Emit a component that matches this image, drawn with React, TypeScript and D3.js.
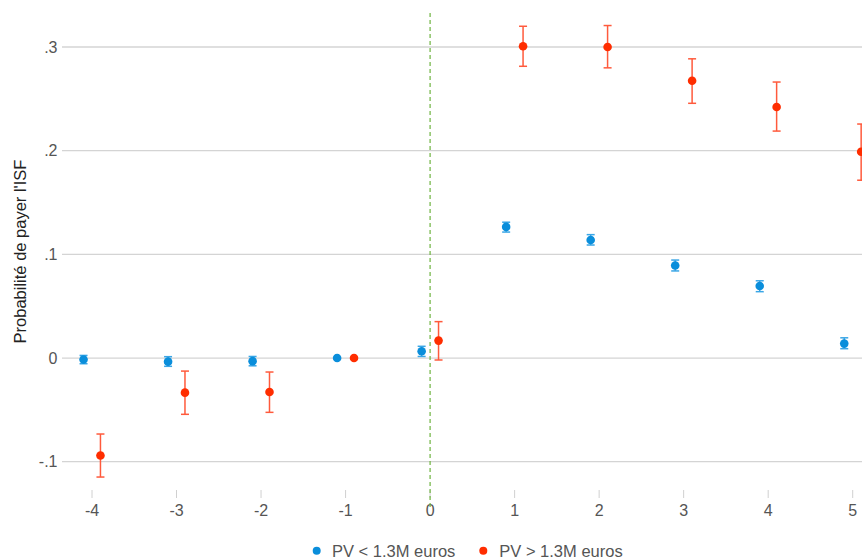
import React from "react";
import * as d3 from "d3";

const periods = [-4, -3, -2, -1, 0, 1, 2, 3, 4, 5];
const lowEst = [-0.0015, -0.0035, -0.003, 0, 0.0065, 0.1265, 0.1139, 0.0892, 0.0695, 0.0139];
const lowLo = [-0.0055, -0.008, -0.0075, 0, 0.0015, 0.1215, 0.109, 0.084, 0.064, 0.009];
const lowHi = [0.0025, 0.0013, 0.0015, 0, 0.0113, 0.131, 0.119, 0.0945, 0.0745, 0.0195];
const highEst = [-0.094, -0.0334, -0.0328, 0, 0.0168, 0.3007, 0.3, 0.2674, 0.2421, 0.199];
const highLo = [-0.1148, -0.0543, -0.0524, 0, -0.0019, 0.2814, 0.2799, 0.2457, 0.2189, 0.1715];
const highHi = [-0.0733, -0.0126, -0.0135, 0, 0.0351, 0.32, 0.3207, 0.2886, 0.2662, 0.2257];
const yTicks = [-0.1, 0, 0.1, 0.2, 0.3];
const yTickLabels = ["-.1", "0", ".1", ".2", ".3"];
const seriesNames = ["PV < 1.3M euros", "PV > 1.3M euros"];
const yTitle = "Probabilité de payer l'ISF";

const W = 862;
const H = 559;
const BLUE = "#0a8edb";
const BLUE_ERR = "#3aa6e6";
const RED = "#ff2d00";
const RED_ERR = "#ff5a3c";
const FONT = "Liberation Sans, Arial, sans-serif";

export default function App() {
  const x = d3.scaleLinear().domain([-4, 5]).range([92, 852.7]);
  const y = d3.scaleLinear().domain([-0.1, 0.3]).range([461.7, 47]);

  const series = [
    { est: lowEst, lo: lowLo, hi: lowHi, off: -0.1, c: BLUE, ec: BLUE_ERR },
    { est: highEst, lo: highLo, hi: highHi, off: 0.1, c: RED, ec: RED_ERR },
  ];

  return (
    <svg width={W} height={H} style={{ position: "absolute", left: 0, top: 0, background: "#fff" }}>
      <rect x={0} y={0} width={W} height={H} fill="#fff" />
      {yTicks.map((t, i) => (
        <g key={i}>
          <line x1={62} x2={W} y1={y(t)} y2={y(t)} stroke="#d4d4d4" strokeWidth={1.3} />
          <text x={57.5} y={y(t)} dy="0.36em" textAnchor="end" fontFamily={FONT} fontSize={16} fill="#555">
            {yTickLabels[i]}
          </text>
        </g>
      ))}
      {periods.map((p) => (
        <g key={p}>
          <line x1={x(p)} x2={x(p)} y1={490} y2={498} stroke="#d0d0d0" strokeWidth={1} />
          <text x={x(p)} y={515.7} textAnchor="middle" fontFamily={FONT} fontSize={16} fill="#555">
            {String(p)}
          </text>
        </g>
      ))}
      <line x1={x(0)} x2={x(0)} y1={13} y2={510} stroke="#6db33f" strokeWidth={1.2} strokeDasharray="4,3" />
      <text
        transform={`translate(25.5,251.5) rotate(-90)`}
        textAnchor="middle"
        fontFamily={FONT}
        fontSize={16.5}
        fill="#222"
      >
        {yTitle}
      </text>
      {series.map((s, si) => (
        <g key={si}>
          {periods.map((p, i) => {
            const cx = x(p + s.off);
            const showErr = s.hi[i] !== s.lo[i];
            return (
              <g key={p}>
                {showErr && (
                  <g stroke={s.ec} strokeWidth={1.5}>
                    <line x1={cx} x2={cx} y1={y(s.hi[i])} y2={y(s.lo[i])} />
                    <line x1={cx - 4} x2={cx + 4} y1={y(s.hi[i])} y2={y(s.hi[i])} />
                    <line x1={cx - 4} x2={cx + 4} y1={y(s.lo[i])} y2={y(s.lo[i])} />
                  </g>
                )}
                <circle cx={cx} cy={y(s.est[i])} r={4.3} fill={s.c} />
              </g>
            );
          })}
        </g>
      ))}
      <g fontFamily={FONT} fontSize={16.5} fill="#555">
        <circle cx={316.7} cy={550.7} r={4} fill={BLUE} />
        <text x={332} y={556.5}>{seriesNames[0]}</text>
        <circle cx={483.3} cy={550.7} r={4} fill={RED} />
        <text x={499.3} y={556.5}>{seriesNames[1]}</text>
      </g>
    </svg>
  );
}
